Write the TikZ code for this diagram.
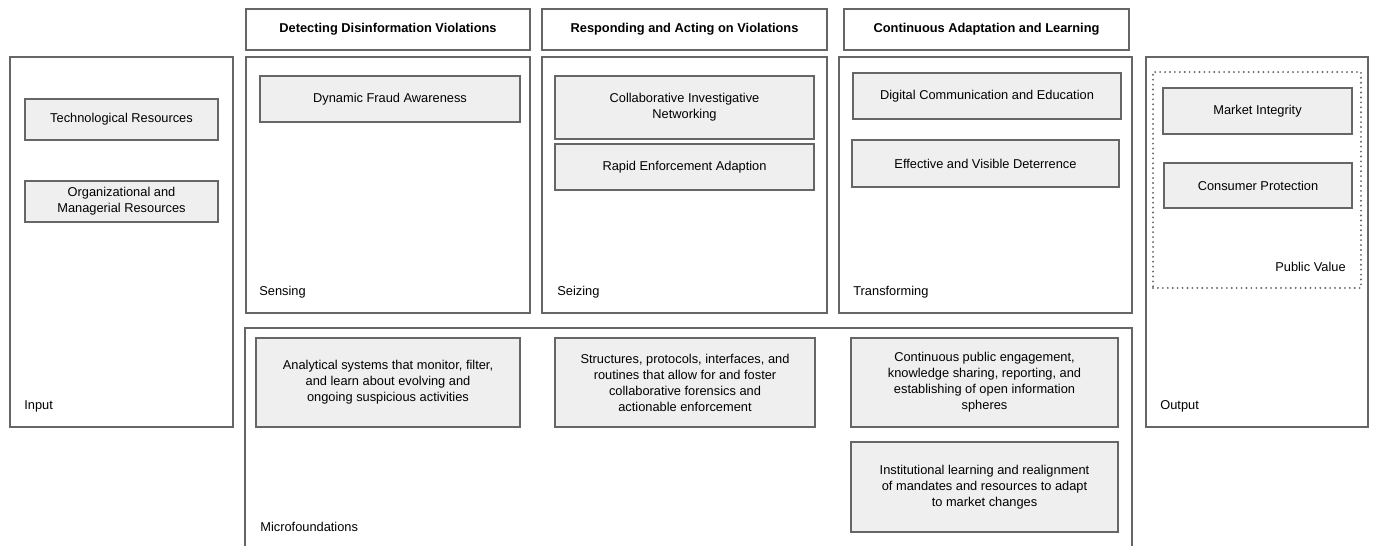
\documentclass[tikz,border=0pt]{standalone}
\usepackage{fontspec}
\setmainfont{Liberation Sans}
\usepackage{xcolor}
\usepackage{tikz}
\usetikzlibrary{calc,shapes,backgrounds}
\definecolor{boxline}{HTML}{666666}
\definecolor{boxfill}{HTML}{EFEFEF}

\begin{document}
\begin{tikzpicture}[x=0.02cm,y=-0.02cm]

        \tikzstyle{every node}=[font=\fontsize{7.3}{9.1}\selectfont, inner sep=0pt, align=center]
        \tikzstyle{frame}=[draw=boxline, line width=0.8pt]
        \tikzstyle{head}=[frame, font=\fontsize{7.3}{9.1}\selectfont\bfseries, minimum height=0.82cm]
        \tikzstyle{item}=[frame, fill=boxfill]
        \tikzstyle{tag}=[anchor=west]
        \useasboundingbox (0,0) rectangle (1373,545);

        \node[head, minimum width=5.68cm] (Hdet) at (388,29.5) {Detecting Disinformation Violations};
        \node[head, minimum width=5.70cm] (Hres) at (684.5,29.5) {Responding and Acting on Violations};
        \node[head, minimum width=5.70cm] (Hcon) at (986.5,29.5) {Continuous Adaptation and Learning};

        \node[frame, minimum width=4.46cm, minimum height=7.40cm] (In) at (121.5,242) {};
        \node[frame, minimum width=5.68cm, minimum height=5.12cm] (Sen) at (388,185) {};
        \node[frame, minimum width=5.70cm, minimum height=5.12cm] (Sei) at (684.5,185) {};
        \node[frame, minimum width=5.86cm, minimum height=5.12cm] (Tra) at (985.5,185) {};
        \node[frame, minimum width=4.44cm, minimum height=7.40cm] (Out) at (1257,242) {};
        \node[draw=boxline, line width=1.2pt, line cap=round, dash pattern=on 0pt off 2.8pt,
              minimum width=4.16cm, minimum height=4.32cm] (PV) at (1257,180) {};
        \draw[frame] (245,550) -- (245,328) -- (1132,328) -- (1132,550);

        \node[item, minimum width=3.86cm, minimum height=0.82cm] (TR) at (121.5,119.5) {Technological Resources};
        \node[item, minimum width=3.86cm, minimum height=0.82cm] (OMR) at (121.5,201.5) {Organizational and\\Managerial Resources};
        \node[item, minimum width=5.20cm, minimum height=0.92cm] (DFA) at (390,99) {Dynamic Fraud Awareness};
        \node[item, minimum width=5.18cm, minimum height=1.26cm] (CIN) at (684.5,107.5) {Collaborative Investigative\\Networking};
        \node[item, minimum width=5.18cm, minimum height=0.92cm] (REA) at (684.5,167) {Rapid Enforcement Adaption};
        \node[item, minimum width=5.36cm, minimum height=0.92cm] (DCE) at (987,96) {Digital Communication and Education};
        \node[item, minimum width=5.34cm, minimum height=0.94cm] (EVD) at (985.5,163.5) {Effective and Visible Deterrence};
        \node[item, minimum width=3.78cm, minimum height=0.92cm] (MI) at (1257.5,111) {Market Integrity};
        \node[item, minimum width=3.76cm, minimum height=0.90cm] (CP) at (1258,185.5) {Consumer Protection};

        \node[item, minimum width=5.28cm, minimum height=1.78cm] (AS) at (388,382.5) {Analytical systems that monitor, filter,\\and learn about evolving and\\ongoing suspicious activities};
        \node[item, minimum width=5.20cm, minimum height=1.78cm] (SP) at (685,382.5) {Structures, protocols, interfaces, and\\routines that allow for and foster\\collaborative forensics and\\actionable enforcement};
        \node[item, minimum width=5.34cm, minimum height=1.78cm] (CPE) at (984.5,382.5) {Continuous public engagement,\\knowledge sharing, reporting, and\\establishing of open information\\spheres};
        \node[item, minimum width=5.34cm, minimum height=1.80cm] (ILR) at (984.5,487) {Institutional learning and realignment\\of mandates and resources to adapt\\to market changes};

        \node[tag] (Linput) at (24,406) {Input};
        \node[tag] (Loutput) at (1160,406) {Output};
        \node[tag] (Lsen) at (259,292) {Sensing};
        \node[tag] (Lsei) at (557,292) {Seizing};
        \node[tag] (Ltra) at (853,292) {Transforming};
        \node[tag] (Lmic) at (260,527) {Microfoundations};
        \node[anchor=east] (Lpv) at (1346,267) {Public Value};
      \end{tikzpicture}
\end{document}
